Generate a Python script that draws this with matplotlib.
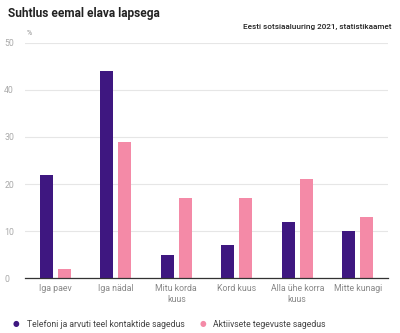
import matplotlib.pyplot as plt
import numpy as np

plt.rcParams['font.family'] = ['Roboto', 'DejaVu Sans']

# Data
categories = ["Iga paev", "Iga nädal", "Mitu korda\nkuus", "Kord kuus", "Alla ühe korra\nkuus", "Mitte kunagi"]
phone_values = [22, 44, 5, 7, 12, 10]
active_values = [2, 29, 17, 17, 21, 13]
series_names = ["Telefoni ja arvuti teel kontaktide sagedus", "Aktiivsete tegevuste sagedus"]
y_ticks = [0, 10, 20, 30, 40, 50]

purple = '#3e1780'
pink = '#f48aa7'

fig = plt.figure(figsize=(4, 3.33), dpi=100)
ax = fig.add_axes([0.0625, 0.165, 0.9075, 0.706])

x = np.arange(len(categories))
width = 0.215
offset = 0.149
ax.bar(x - offset, phone_values, width, color=purple, zorder=3)
ax.bar(x + offset, active_values, width, color=pink, zorder=3)

ax.set_xlim(-0.5, len(categories) - 0.5)
ax.set_ylim(0, 50)
ax.set_yticks(y_ticks)
ax.set_xticks(x)
ax.set_xticklabels(categories, fontsize=6.3, color='#888888', linespacing=1.35)
ax.tick_params(axis='y', labelsize=6.3, labelcolor='#aaaaaa', length=0)
ax.tick_params(axis='x', length=0, pad=4)
for lbl in ax.get_yticklabels():
    lbl.set_horizontalalignment('left')
ax.yaxis.set_tick_params(pad=15)

ax.grid(axis='y', color='#e6e6e6', linewidth=0.8, zorder=0)
for side in ['top', 'right', 'left']:
    ax.spines[side].set_visible(False)
ax.spines['bottom'].set_color('#333333')
ax.spines['bottom'].set_linewidth(0.9)
ax.spines['bottom'].set_zorder(4)

# Titles
fig.text(0.02, 0.96, "Suhtlus eemal elava lapsega", fontsize=8.6, fontweight='bold',
         color='#222222', va='center', ha='left')
fig.text(0.978, 0.918, "Eesti sotsiaaluuring 2021, statistikaamet", fontsize=5.9,
         fontweight='medium', color='#222222', va='center', ha='right')
fig.text(0.067, 0.9, "%", fontsize=5, color='#888888', va='center', ha='left')

# Legend
fig.text(0.04, 0.027, "\u25cf", fontsize=5.5, color=purple, va='center', ha='center')
fig.text(0.068, 0.027, series_names[0], fontsize=6.2, color='#444444', va='center', ha='left')
fig.text(0.507, 0.027, "\u25cf", fontsize=5.5, color=pink, va='center', ha='center')
fig.text(0.533, 0.027, series_names[1], fontsize=6.2, color='#444444', va='center', ha='left')

fig.savefig('out.png', dpi=100)
